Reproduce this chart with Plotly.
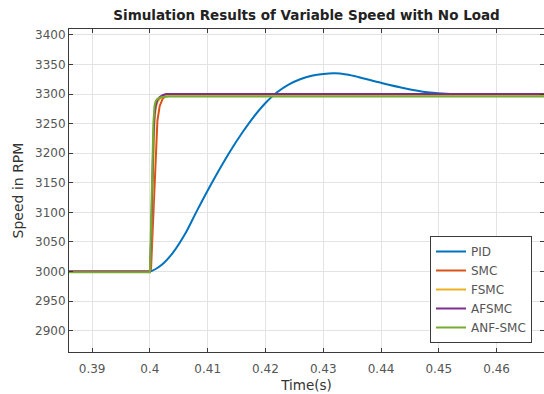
import plotly.graph_objects as go

# ---- data ----
t_pid = [0.3860, 0.3950, 0.3990, 0.4000, 0.4020, 0.4040, 0.4060, 0.4080, 0.4100, 0.4120, 0.4140,
         0.4160, 0.4180, 0.4200, 0.4220, 0.4240, 0.4260, 0.4280, 0.4300, 0.4320,
         0.4340, 0.4360, 0.4400, 0.4440, 0.4480, 0.4520, 0.4682]
v_pid = [3000, 3000, 3000, 3000, 3011, 3032, 3062, 3100, 3137, 3172, 3205,
         3235, 3262, 3285, 3303, 3316, 3325, 3331, 3334, 3335,
         3333, 3329, 3319, 3310, 3303, 3300, 3300]

t_fast = [0.3860, 0.4000, 0.4002, 0.4004, 0.4006, 0.4008, 0.4010, 0.4013,
          0.4017, 0.4022, 0.4028, 0.4035, 0.4682]
v_smc = [3000, 3000, 3005, 3050, 3110, 3165, 3215, 3255, 3280, 3292, 3297, 3298, 3298]
v_fsmc = [3000, 3000, 3040, 3130, 3210, 3255, 3275, 3287, 3292, 3295, 3297, 3297, 3297]
v_afsmc = [3000, 3000, 3050, 3150, 3225, 3265, 3280, 3290, 3295, 3298, 3300, 3300, 3300]
v_anf = [2999, 2999, 3080, 3180, 3250, 3280, 3288, 3292, 3294, 3295, 3296, 3296, 3296]

series_names = ["PID", "SMC", "FSMC", "AFSMC", "ANF-SMC"]
colors = ["#0072BD", "#D95319", "#EDB120", "#7E2F8E", "#77AC30"]

x_ticks = [0.39, 0.40, 0.41, 0.42, 0.43, 0.44, 0.45, 0.46]
x_tick_labels = ["0.39", "0.4", "0.41", "0.42", "0.43", "0.44", "0.45", "0.46"]
y_ticks = [2900, 2950, 3000, 3050, 3100, 3150, 3200, 3250, 3300, 3350, 3400]

FONT = "DejaVu Sans"

fig = go.Figure()
fig.add_trace(go.Scatter(x=t_pid, y=v_pid, mode="lines", name=series_names[0],
                         line=dict(color=colors[0], width=2, shape="spline", smoothing=1.0)))
for name, col, vals in zip(series_names[1:], colors[1:], [v_smc, v_fsmc, v_afsmc, v_anf]):
    fig.add_trace(go.Scatter(x=t_fast, y=vals, mode="lines", name=name,
                             line=dict(color=col, width=2)))

axis_common = dict(
    showline=True, linecolor="#3a3a3a", linewidth=1, mirror="ticks",
    ticks="inside", ticklen=4, tickcolor="#3a3a3a",
    showgrid=True, gridcolor="#e3e3e3", gridwidth=1,
    zeroline=False,
    tickfont=dict(family=FONT, size=12, color="#555555"),
)

fig.update_layout(
    width=544, height=394,
    margin=dict(l=69, r=0, t=29, b=42),
    paper_bgcolor="white", plot_bgcolor="white",
    title=dict(text="<b>Simulation Results of Variable Speed with No Load</b>",
               x=0.5635, xanchor="center", y=1 - 15 / 394, yanchor="middle",
               font=dict(family=FONT, size=13.5, color="#222222")),
    xaxis=dict(range=[0.3860, 0.4682], tickvals=x_ticks, ticktext=x_tick_labels,
               title=dict(text="Time(s)", font=dict(family=FONT, size=13.5, color="#333333"),
                          standoff=5),
               ticklabelstandoff=6, **axis_common),
    yaxis=dict(range=[2864, 3410], tickvals=y_ticks,
               title=dict(text="Speed in RPM", font=dict(family=FONT, size=14, color="#333333"),
                          standoff=8),
               **axis_common),
    legend=dict(x=(532 - 69) / 475, xanchor="right", y=(352 - 343) / 323, yanchor="bottom",
                bgcolor="white", bordercolor="#3a3a3a", borderwidth=1,
                font=dict(family=FONT, size=12, color="#555555"),
                tracegroupgap=0, itemwidth=30),
    showlegend=True,
)

fig.write_html("out.html")
